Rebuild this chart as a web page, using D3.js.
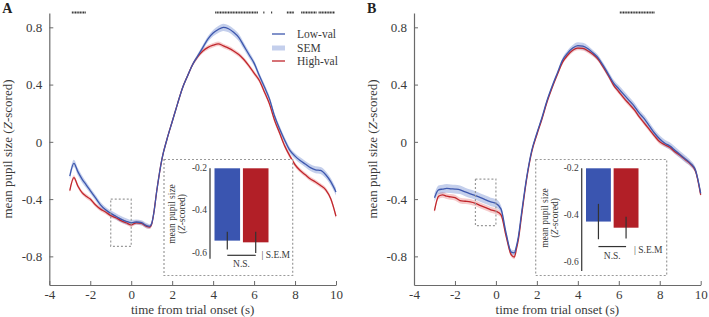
<!DOCTYPE html>
<html>
<head>
<meta charset="utf-8">
<script src="https://cdnjs.cloudflare.com/ajax/libs/d3/7.8.5/d3.min.js"></script>
<style>
  body { margin: 0; background: #fff; }
  svg { display: block; font-family: 'Liberation Serif', 'Times New Roman', serif; }
</style>
</head>
<body>
<div id="chart"></div>
<script>
// time points (s) shared by every trace
const times = [-3, -2.8, -2.6, -2.4, -2.2, -2, -1.75, -1.5, -1.25, -1, -0.75, -0.5, -0.25, 0,
  0.25, 0.5, 0.75, 0.9, 1, 1.1, 1.25, 1.5, 1.75, 2, 2.25, 2.5, 2.75, 3, 3.25, 3.5, 3.75, 4,
  4.25, 4.5, 4.75, 5, 5.25, 5.5, 5.75, 6, 6.25, 6.5, 6.75, 7, 7.25, 7.5, 7.75, 8, 8.25, 8.5,
  8.75, 9, 9.25, 9.5, 9.75, 10];

// panel A
const lowValA = [-0.24, -0.15, -0.21, -0.26, -0.30, -0.34, -0.39, -0.44, -0.475, -0.50, -0.52, -0.54, -0.555, -0.565,
  -0.56, -0.565, -0.585, -0.59, -0.57, -0.50, -0.34, -0.12, 0.02, 0.14, 0.26, 0.375, 0.46, 0.54, 0.60, 0.66, 0.72, 0.76,
  0.785, 0.80, 0.79, 0.765, 0.73, 0.67, 0.61, 0.55, 0.465, 0.385, 0.30, 0.18, 0.09, 0.01, -0.06, -0.10, -0.13, -0.155,
  -0.18, -0.195, -0.20, -0.23, -0.28, -0.35];
const highValA = [-0.34, -0.25, -0.31, -0.355, -0.38, -0.40, -0.44, -0.47, -0.49, -0.515, -0.53, -0.55, -0.565, -0.58,
  -0.565, -0.57, -0.59, -0.595, -0.575, -0.50, -0.34, -0.12, 0.02, 0.14, 0.26, 0.375, 0.46, 0.54, 0.595, 0.635, 0.66, 0.675,
  0.685, 0.67, 0.655, 0.635, 0.61, 0.575, 0.53, 0.48, 0.43, 0.35, 0.265, 0.15, 0.06, -0.03, -0.10, -0.16, -0.20, -0.23,
  -0.26, -0.28, -0.305, -0.335, -0.40, -0.52];
const lowSemA = [0.025, 0.025, 0.025, 0.025, 0.022, 0.02, 0.02, 0.02, 0.02, 0.02, 0.022, 0.022, 0.022, 0.02,
  0.018, 0.018, 0.018, 0.015, 0.012, 0.01, 0.01, 0.01, 0.01, 0.01, 0.01, 0.01, 0.012, 0.012, 0.015, 0.018, 0.02, 0.022,
  0.024, 0.025, 0.025, 0.025, 0.025, 0.024, 0.022, 0.02, 0.02, 0.02, 0.02, 0.02, 0.02, 0.02, 0.02, 0.02, 0.022, 0.022,
  0.024, 0.024, 0.025, 0.025, 0.025, 0.025];
const highSemA = [0.016, 0.016, 0.016, 0.015, 0.015, 0.015, 0.015, 0.015, 0.015, 0.015, 0.015, 0.015, 0.015, 0.015,
  0.015, 0.015, 0.015, 0.014, 0.012, 0.01, 0.01, 0.01, 0.01, 0.01, 0.01, 0.01, 0.01, 0.012, 0.014, 0.015, 0.016, 0.016,
  0.016, 0.016, 0.016, 0.016, 0.016, 0.016, 0.016, 0.016, 0.016, 0.016, 0.016, 0.016, 0.016, 0.016, 0.016, 0.016, 0.016, 0.016,
  0.016, 0.016, 0.016, 0.016, 0.016, 0.016];

// panel B
const lowValB = [-0.39, -0.335, -0.33, -0.325, -0.328, -0.33, -0.335, -0.35, -0.363, -0.375, -0.39, -0.405, -0.42, -0.43,
  -0.47, -0.64, -0.77, -0.775, -0.73, -0.66, -0.50, -0.25, -0.06, 0.06, 0.17, 0.29, 0.39, 0.48, 0.57, 0.62, 0.655, 0.672,
  0.668, 0.65, 0.62, 0.585, 0.53, 0.47, 0.41, 0.37, 0.33, 0.29, 0.25, 0.20, 0.16, 0.11, 0.06, 0.02, -0.01, -0.03,
  -0.06, -0.09, -0.12, -0.15, -0.20, -0.36];
const highValB = [-0.48, -0.38, -0.37, -0.38, -0.385, -0.39, -0.41, -0.415, -0.42, -0.43, -0.445, -0.46, -0.475, -0.485,
  -0.51, -0.66, -0.79, -0.805, -0.75, -0.68, -0.52, -0.26, -0.07, 0.05, 0.16, 0.28, 0.38, 0.47, 0.555, 0.605, 0.64, 0.655,
  0.653, 0.635, 0.61, 0.575, 0.52, 0.46, 0.395, 0.35, 0.305, 0.265, 0.225, 0.175, 0.13, 0.085, 0.04, 0.0, -0.02, -0.04,
  -0.07, -0.095, -0.125, -0.155, -0.205, -0.37];
const lowSemB = [0.03, 0.03, 0.03, 0.03, 0.03, 0.03, 0.03, 0.03, 0.03, 0.03, 0.03, 0.03, 0.03, 0.03,
  0.025, 0.02, 0.018, 0.018, 0.015, 0.012, 0.01, 0.01, 0.01, 0.01, 0.01, 0.01, 0.012, 0.014, 0.016, 0.02, 0.022, 0.024,
  0.024, 0.022, 0.02, 0.02, 0.02, 0.022, 0.024, 0.025, 0.025, 0.025, 0.025, 0.025, 0.025, 0.025, 0.025, 0.025, 0.025, 0.025,
  0.025, 0.025, 0.025, 0.022, 0.02, 0.02];
const highSemB = [0.02, 0.02, 0.02, 0.02, 0.02, 0.02, 0.02, 0.02, 0.02, 0.02, 0.02, 0.02, 0.02, 0.02,
  0.018, 0.016, 0.015, 0.015, 0.012, 0.01, 0.01, 0.01, 0.01, 0.01, 0.01, 0.01, 0.01, 0.012, 0.014, 0.015, 0.016, 0.016,
  0.016, 0.016, 0.016, 0.016, 0.016, 0.016, 0.016, 0.016, 0.016, 0.016, 0.016, 0.016, 0.016, 0.016, 0.016, 0.016, 0.016, 0.016,
  0.016, 0.016, 0.016, 0.016, 0.016, 0.016];

// significant time windows (s), drawn as dotted rows on top
const sigA = [[-2.9, -2.2], [4.1, 6.2], [6.45, 6.52], [6.83, 6.9], [7.6, 7.95], [8.3, 9.05], [9.15, 9.95]];
const sigB = [[6.05, 7.75]];

// baseline window boxes [time range, value range]
const baseBoxA = [[-1, 0], [-0.40, -0.73]];
const baseBoxB = [[-1, 0], [-0.26, -0.585]];

// inset bars (baseline mean pupil size)
const groups = ['Low-val', 'High-val'];
const barMeanA = [-0.545, -0.553];
const barSemA = [0.042, 0.05];
const barMeanB = [-0.43, -0.456];
const barSemB = [0.075, 0.046];

const xTicks = [-4, -2, 0, 2, 4, 6, 8, 10];
const yTicks = [0.8, 0.4, 0, -0.4, -0.8];
const insetTicks = [-0.2, -0.4, -0.6];

const BLUE = '#3d57ad';
const RED = '#c0262c';
const BLUE_BAND = 'rgba(100,130,205,0.38)';
const RED_BAND = 'rgba(230,110,110,0.35)';
const BLUE_BAR = '#3a55b0';
const RED_BAR = '#b21f27';
const AXIS = '#6a6a6a';
const TEXT = '#3a3a3a';

const width = 709, height = 317;
const svg = d3.select('#chart').append('svg').attr('width', width).attr('height', height);

function yLabel(g, x, y, size, parts) {
  const t = g.append('text')
    .attr('transform', 'translate(' + x + ',' + y + ') rotate(-90)')
    .attr('text-anchor', 'middle')
    .attr('font-size', size)
    .attr('fill', TEXT);
  parts.forEach(p => {
    t.append('tspan').attr('font-style', p[1] ? 'italic' : null).text(p[0]);
  });
}

function drawPanel(opt) {
  const g = svg.append('g');
  const x = d3.scaleLinear().domain([-4, 10]).range([opt.left, opt.right]);
  const y = d3.scaleLinear().domain([-1, 0.9]).range([285, 13]);

  // axes, ticks pointing inward
  const xAxis = g.append('g').attr('transform', 'translate(0,' + y(-1) + ')')
    .call(d3.axisBottom(x).tickValues(xTicks).tickSizeInner(-4).tickSizeOuter(0).tickPadding(5)
      .tickFormat(d => String(d)));
  const yAxis = g.append('g').attr('transform', 'translate(' + x(-4) + ',0)')
    .call(d3.axisLeft(y).tickValues(yTicks).tickSizeInner(-4).tickSizeOuter(0).tickPadding(7)
      .tickFormat(d => String(d)));
  [xAxis, yAxis].forEach(a => {
    a.select('.domain').attr('stroke', AXIS).attr('stroke-width', 1.2);
    a.selectAll('.tick line').attr('stroke', AXIS);
    a.selectAll('.tick text').attr('fill', TEXT).attr('font-size', 13)
      .attr('font-family', "'Liberation Serif', 'Times New Roman', serif");
  });

  g.append('text').attr('x', (x(-4) + x(10)) / 2).attr('y', 314.3)
    .attr('text-anchor', 'middle').attr('font-size', 13).attr('fill', TEXT)
    .text('time from trial onset (s)');
  yLabel(g, opt.left - 37, 149, 13, [['mean pupil size ('], ['Z', true], ['-scored)']]);

  g.append('text').attr('x', opt.left - 47).attr('y', 13)
    .attr('font-size', 14).attr('font-weight', 'bold').attr('fill', '#222').text(opt.name);

  // sem bands then mean lines
  const series = [
    { mean: opt.high, sem: opt.highSem, line: RED, band: RED_BAND },
    { mean: opt.low, sem: opt.lowSem, line: BLUE, band: BLUE_BAND }
  ];
  const area = d3.area().curve(d3.curveMonotoneX)
    .x(d => x(d.t)).y0(d => y(d.v - d.s)).y1(d => y(d.v + d.s));
  const line = d3.line().curve(d3.curveMonotoneX).x(d => x(d.t)).y(d => y(d.v));
  series.forEach(s => {
    const pts = times.map((t, i) => ({ t: t, v: s.mean[i], s: s.sem[i] }));
    g.append('path').datum(pts).attr('d', area).attr('fill', s.band);
  });
  series.forEach(s => {
    const pts = times.map((t, i) => ({ t: t, v: s.mean[i], s: s.sem[i] }));
    g.append('path').datum(pts).attr('d', line).attr('fill', 'none')
      .attr('stroke', s.line).attr('stroke-width', 1.3);
  });

  // significance dots
  g.selectAll('.sig').data(opt.sig).enter().append('line')
    .attr('x1', d => x(d[0])).attr('x2', d => x(d[1]))
    .attr('y1', 12.5).attr('y2', 12.5)
    .attr('stroke', '#333').attr('stroke-width', 2).attr('stroke-dasharray', '1.1,0.5');

  // baseline window box
  const bb = opt.baseBox;
  g.append('rect').attr('x', x(bb[0][0])).attr('y', y(bb[1][0]))
    .attr('width', x(bb[0][1]) - x(bb[0][0])).attr('height', y(bb[1][1]) - y(bb[1][0]))
    .attr('fill', 'none').attr('stroke', '#9a9a9a').attr('stroke-width', 1.2).attr('stroke-dasharray', '2,2');

  drawInset(g, opt.inset);
}

function drawInset(g, o) {
  g.append('rect').attr('x', o.box[0]).attr('y', 159.5).attr('width', o.box[1] - o.box[0]).attr('height', 116)
    .attr('fill', '#fff').attr('stroke', '#9a9a9a').attr('stroke-width', 1.2).attr('stroke-dasharray', '2,2');

  const y = d3.scaleLinear().domain([-0.2, o.bottom]).range([167.3, o.yBottom]);
  const x = d3.scaleBand().domain(groups).range(o.barRange).paddingInner(0.1);

  g.append('line').attr('x1', o.axisX).attr('x2', o.axisX).attr('y1', y(-0.2) + 1).attr('y2', y(o.bottom))
    .attr('stroke', '#444').attr('stroke-width', 1.3);
  g.selectAll(null).data(insetTicks).enter().append('text')
    .attr('x', o.axisX - 3).attr('y', d => y(d) + 3.5)
    .attr('text-anchor', 'end').attr('font-size', 9.5).attr('fill', TEXT).text(d => String(d));

  const colors = [BLUE_BAR, RED_BAR];
  g.selectAll(null).data(o.mean).enter().append('rect')
    .attr('x', (d, i) => x(groups[i])).attr('width', x.bandwidth())
    .attr('y', y(-0.2) + 1).attr('height', d => y(d) - y(-0.2) - 1)
    .attr('fill', (d, i) => colors[i]);
  g.selectAll(null).data(o.mean).enter().append('line')
    .attr('x1', (d, i) => x(groups[i]) + x.bandwidth() / 2)
    .attr('x2', (d, i) => x(groups[i]) + x.bandwidth() / 2)
    .attr('y1', (d, i) => y(d + o.sem[i])).attr('y2', (d, i) => y(d - o.sem[i]))
    .attr('stroke', '#333').attr('stroke-width', 1.2);

  const c0 = x(groups[0]) + x.bandwidth() / 2, c1 = x(groups[1]) + x.bandwidth() / 2;
  g.append('line').attr('x1', c0).attr('x2', c1).attr('y1', y(o.nsLevel)).attr('y2', y(o.nsLevel))
    .attr('stroke', '#333').attr('stroke-width', 1.2);
  g.append('text').attr('x', (c0 + c1) / 2).attr('y', y(o.nsLevel) + 12)
    .attr('text-anchor', 'middle').attr('font-size', 9.5).attr('fill', TEXT).text('N.S.');
  g.append('text').attr('x', o.semX).attr('y', o.semY)
    .attr('font-size', 9.5).attr('fill', TEXT).text('| S.E.M');

  yLabel(g, o.labelX, o.labelY, 9.5, [['mean pupil size']]);
  yLabel(g, o.labelX + 9.5, o.labelY, 9.5, [['('], ['Z', true], ['-scored)']]);
}

drawPanel({
  name: 'A', left: 49.3, right: 336,
  low: lowValA, high: highValA, lowSem: lowSemA, highSem: highSemA,
  sig: sigA, baseBox: baseBoxA,
  inset: {
    box: [164, 292.7], axisX: 210, bottom: -0.63, yBottom: 258.7,
    barRange: [214.5, 268.5], mean: barMeanA, sem: barSemA, nsLevel: -0.614,
    semX: 261.5, semY: 257.5, labelX: 175, labelY: 214
  }
});

drawPanel({
  name: 'B', left: 414, right: 700.7,
  low: lowValB, high: highValB, lowSem: lowSemB, highSem: highSemB,
  sig: sigB, baseBox: baseBoxB,
  inset: {
    box: [535.7, 666.7], axisX: 581.7, bottom: -0.64, yBottom: 271.1,
    barRange: [586, 638.5], mean: barMeanB, sem: barSemB, nsLevel: -0.536,
    semX: 634, semY: 252.5, labelX: 548, labelY: 218
  }
});

// legend (panel A)
const legend = svg.append('g').attr('font-size', 11.5).attr('fill', TEXT);
const legendRows = [
  { label: 'Low-val', y: 34, kind: 'line', color: BLUE },
  { label: 'SEM', y: 48, kind: 'band', color: BLUE_BAND },
  { label: 'High-val', y: 61, kind: 'line', color: RED }
];
legendRows.forEach(r => {
  if (r.kind === 'line') {
    legend.append('line').attr('x1', 272).attr('x2', 285).attr('y1', r.y).attr('y2', r.y)
      .attr('stroke', r.color).attr('stroke-width', 1.3);
  } else {
    legend.append('rect').attr('x', 272).attr('y', r.y - 2.5).attr('width', 13).attr('height', 5)
      .attr('fill', r.color);
  }
  legend.append('text').attr('x', 297).attr('y', r.y + 4).text(r.label);
});
</script>
</body>
</html>
